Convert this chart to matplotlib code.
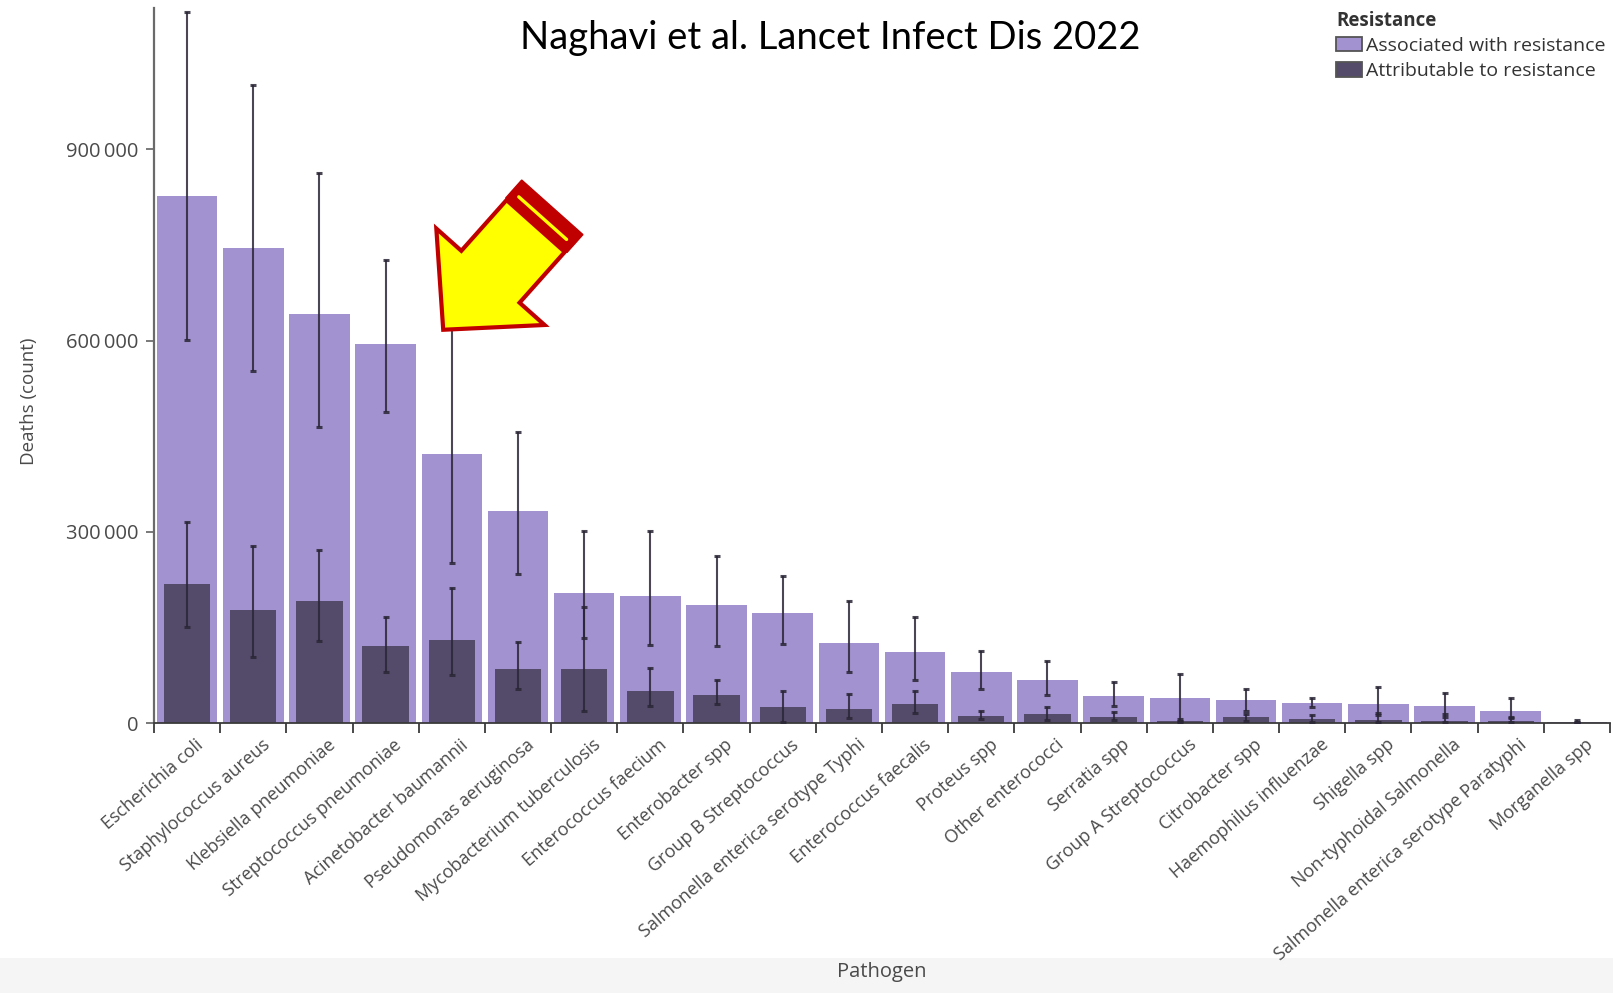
import matplotlib
matplotlib.use("Agg")
import matplotlib.pyplot as plt
import numpy as np
from matplotlib.patches import Polygon, Rectangle, Patch
from matplotlib.lines import Line2D
from matplotlib.transforms import ScaledTranslation, IdentityTransform

plt.rcParams["font.family"] = ["Open Sans", "DejaVu Sans"]

# Global deaths by pathogen, 2019
pathogens = [
    "Escherichia coli", "Staphylococcus aureus", "Klebsiella pneumoniae",
    "Streptococcus pneumoniae", "Acinetobacter baumannii", "Pseudomonas aeruginosa",
    "Mycobacterium tuberculosis", "Enterococcus faecium", "Enterobacter spp",
    "Group B Streptococcus", "Salmonella enterica serotype Typhi",
    "Enterococcus faecalis", "Proteus spp", "Other enterococci", "Serratia spp",
    "Group A Streptococcus", "Citrobacter spp", "Haemophilus influenzae",
    "Shigella spp", "Non-typhoidal Salmonella",
    "Salmonella enterica serotype Paratyphi", "Morganella spp",
]

associated = [827500, 745400, 642000, 595300, 422600, 333300, 204700, 199500,
              184900, 172300, 126200, 112100, 79800, 67700, 43100, 39500,
              36400, 32200, 29700, 27000, 19600, 2300]
associated_lo = [601700, 551700, 464700, 488800, 251700, 234000, 133100, 122600,
                 121500, 124200, 79800, 68200, 53100, 44200, 27000, 4000,
                 19100, 24900, 12900, 10200, 7700, 800]
associated_hi = [1114800, 1000200, 863100, 725900, 650000, 456700, 301900, 301900,
                 262700, 231300, 192100, 167000, 113700, 97500, 64600, 77200,
                 53100, 39000, 57300, 46900, 39000, 5000]

attributable = [218300, 177500, 191600, 121100, 130900, 84500, 84500, 51000,
                44700, 24900, 22800, 30100, 11300, 14000, 10200, 3900,
                10200, 6600, 5000, 3900, 3500, 900]
attributable_lo = [151300, 103300, 129400, 80800, 75600, 53100, 19600, 27400,
                   30600, 2400, 7600, 15500, 7000, 5000, 5000, 2000,
                   4000, 2300, 2600, 1500, 1500, 400]
attributable_hi = [316000, 278300, 271600, 166100, 212500, 126900, 182200, 86100,
                   67300, 51000, 46300, 51000, 19600, 25900, 17500, 6000,
                   15000, 12900, 15500, 14400, 10200, 1500]

ytick_values = [0, 300000, 600000, 900000]
ytick_labels = ["0", "300\u2009000", "600\u2009000", "900\u2009000"]

LIGHT = "#a292cf"
DARK = "#544b6a"
ERR = "#2a2636"
TEXT = "#4a4a4a"

W, H, DPI = 1613, 993, 100
fig = plt.figure(figsize=(W / DPI, H / DPI), dpi=DPI)
fig.patch.set_facecolor("white")

# faint band at the foot of the page
fig.add_artist(Rectangle((0, 0), 1, 35 / H, transform=fig.transFigure,
                         facecolor="#f5f5f5", edgecolor="none", zorder=-5))

ax = fig.add_axes([154 / W, 1 - 723.2 / H, (1610 - 154) / W, (723.2 - 8) / H])
x = np.arange(len(pathogens))

ax.bar(x, associated, width=0.915, color=LIGHT, zorder=1)
ax.bar(x, attributable, width=0.70, color=DARK, zorder=2)

a = np.array(associated)
b = np.array(attributable)
ax.errorbar(x, a, yerr=[a - np.array(associated_lo), np.array(associated_hi) - a],
            fmt="none", ecolor=ERR, elinewidth=1.5, capsize=2.2, capthick=2.2,
            alpha=0.85, zorder=3)
ax.errorbar(x, b, yerr=[b - np.array(attributable_lo), np.array(attributable_hi) - b],
            fmt="none", ecolor=ERR, elinewidth=1.5, capsize=2.2, capthick=2.2,
            alpha=0.85, zorder=3)

ax.set_xlim(-0.5, len(pathogens) - 0.5)
ax.set_ylim(0, 1121600)

for side in ("top", "right"):
    ax.spines[side].set_visible(False)
ax.spines["left"].set_color("#6a6a6a")
ax.spines["left"].set_linewidth(1.6)
ax.spines["bottom"].set_color("#3a3a3a")
ax.spines["bottom"].set_linewidth(1.3)

ax.set_yticks(ytick_values)
ax.set_yticklabels(ytick_labels, fontsize=14.5, color=TEXT)
ax.tick_params(axis="y", length=6, width=1.1, color="#555555", pad=5)

ax.set_xticks(x)
ax.set_xticklabels(pathogens, rotation=41, ha="right", va="top",
                   rotation_mode="anchor", fontsize=13, color=TEXT)
ax.tick_params(axis="x", which="major", length=0, pad=9)
ax.set_xticks(np.arange(-0.5, len(pathogens)), minor=True)
ax.tick_params(axis="x", which="minor", length=7, width=1.3, color="#3a3a3a")
shift = ScaledTranslation(8 / DPI, 0, fig.dpi_scale_trans)
for lab in ax.get_xticklabels():
    lab.set_transform(lab.get_transform() + shift)

fig.text(29 / W, 1 - 401 / H, "Deaths (count)", rotation=90, ha="center",
         va="center", fontsize=13.5, color=TEXT)
fig.text(882 / W, 1 - 972 / H, "Pathogen", ha="center", va="center",
         fontsize=14.5, color=TEXT)

fig.text(830 / W, 1 - 38 / H, "Naghavi et al. Lancet Infect Dis 2022",
         ha="center", va="center", fontsize=27.5, color="black",
         family=["Lato", "DejaVu Sans"])

handles = [Patch(facecolor=LIGHT, edgecolor="#555555", linewidth=1.3,
                 label="Associated with resistance"),
           Patch(facecolor=DARK, edgecolor="#555555", linewidth=1.3,
                 label="Attributable to resistance")]
leg = fig.legend(handles=handles, title="Resistance", loc="upper left",
                 bbox_to_anchor=(1336 / W, 1 - 11 / H), frameon=False,
                 fontsize=14, title_fontproperties={"weight": "bold", "size": 13.5},
                 handlelength=1.35, handleheight=0.8, handletextpad=0.2,
                 labelspacing=0.36, borderaxespad=0, borderpad=0,
                 alignment="left")
leg._legend_box.sep = 4
for t in leg.get_texts():
    t.set_color("#333333")
leg.get_title().set_color("#333333")

# Yellow block arrow pointing at Acinetobacter baumannii
fig.canvas.draw()
tip = ax.transData.transform((3.87, 617000))
ang = np.deg2rad(48.3)
d = np.array([np.cos(ang), np.sin(ang)])
n = np.array([-np.sin(ang), np.cos(ang)])


def local(pts):
    return [tuple(tip + s * d + t * n) for s, t in pts]


body = local([(0, 0), (71, 72.5), (71, 39), (139, 39), (139, -39),
              (71, -39), (71, -72.5)])
fig.add_artist(Polygon(body, closed=True, transform=IdentityTransform(),
                       facecolor="#ffff00", edgecolor="#c00000", linewidth=3,
                       joinstyle="miter", zorder=10))
band = local([(140, 41), (164, 41), (164, -41), (140, -41)])
fig.add_artist(Polygon(band, closed=True, transform=IdentityTransform(),
                       facecolor="#c00000", edgecolor="#c00000", linewidth=1,
                       zorder=10))
stripe = np.array(local([(149.5, 32), (149.5, -32)]))
fig.add_artist(Line2D(stripe[:, 0], stripe[:, 1], transform=IdentityTransform(),
                      color="#ffff00", linewidth=2.4, solid_capstyle="round",
                      zorder=11))

fig.savefig("out.png", dpi=DPI, facecolor=fig.get_facecolor())
